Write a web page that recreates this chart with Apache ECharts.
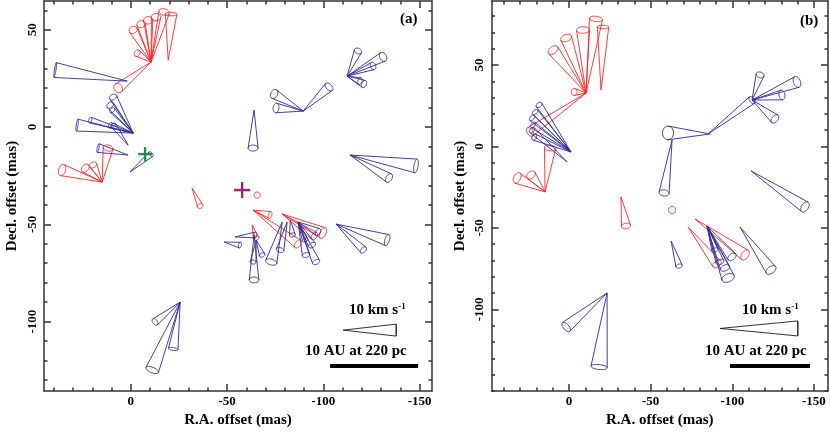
<!DOCTYPE html>
<html>
<head>
<meta charset="utf-8">
<script src="https://cdn.jsdelivr.net/npm/echarts@6/dist/echarts.min.js"></script>
<style>
  html, body { margin: 0; padding: 0; background: #fff; }
  #chart { width: 830px; height: 437px; }
</style>
</head>
<body>
<div id="chart"></div>
<script>
// axis ranges (mas)
const xRangeA = [-156.4, 45.1]
const yRangeA = [-135.7, 64.8]
const xRangeB = [-158.6, 47.5]
const yRangeB = [-150.1, 89.3]
// labelled ticks
const xLabels = [0, -50, -100, -150]
const yLabels = [50, 0, -50, -100]

// cones: [apexX, apexY, baseX, baseY, halfWidth, ellipseRatio]
const redA = [
  [-10.5, 33.4, -1.2, 49.9, 2.2, 0.8],
  [-10.5, 33.4, -5.3, 52.9, 2.2, 0.8],
  [-10.5, 33.4, -9.0, 54.9, 2.4, 0.8],
  [-10.5, 33.4, -13.1, 56.5, 2.4, 0.8],
  [-10.5, 33.4, -17.3, 59.1, 2.8, 0.6],
  [-10.5, 33.4, -3.3, 38.0, 1.8, 0.8],
  [-10.5, 33.4, 6.6, 20.0, 2.6, 0.8],
  [-19.4, 34.4, -20.9, 58.1, 3.0, 0.3],
  [14.9, -28.3, 35.7, -22.1, 3.0, 0.6],
  [14.9, -28.3, 23.7, -21.1, 2.4, 0.7],
  [14.9, -28.3, 19.6, -19.5, 2.0, 0.7],
  [14.9, -28.3, 11.8, -10.8, 2.6, 0.6],
  [-31.8, -31.4, -36.0, -40.6, 1.5, 0.8],
  [-65.6, -35.0, -65.6, -35.0, 1.6, 1.0],
  [-63.5, -42.7, -72.3, -45.2, 1.8, 0.5],
  [-63.5, -42.7, -86.8, -60.1, 2.4, 0.6],
  [-78.6, -44.7, -99.8, -54.5, 3.0, 0.5],
  [-78.6, -44.7, -95.3, -56.0, 2.2, 0.6],
  [-63.0, -50.4, -65.1, -57.1, 1.5, 0.7]
]
const blueA = [
  [1.9, 23.6, 39.3, 29.3, 3.9, 0.1],
  [-1.2, -3.1, 9.2, 15.4, 2.0, 0.7],
  [-1.2, -3.1, 10.7, 11.3, 2.0, 0.7],
  [-1.2, -3.1, 9.7, 8.7, 1.5, 0.7],
  [-1.2, -3.1, 27.9, 1.0, 3.1, 0.15],
  [-1.2, -3.1, 21.1, 3.6, 1.5, 0.5],
  [-1.2, -3.1, 10.7, 1.0, 1.5, 0.5],
  [1.4, -9.3, 9.1, 1.0, 1.5, 0.5],
  [1.4, -14.4, 17.0, -10.8, 2.3, 0.2],
  [0.4, -23.1, -10.5, -13.9, 1.5, 0.5],
  [-64.0, 8.7, -63.5, -10.8, 2.6, 0.6],
  [-89.5, 8.2, -74.4, 17.0, 2.5, 0.7],
  [-89.5, 8.2, -75.4, 9.8, 2.5, 0.6],
  [-89.5, 8.2, -102.9, 20.6, 2.5, 0.6],
  [-112.3, 26.2, -118.0, 39.1, 2.0, 0.7],
  [-112.3, 26.2, -131.0, 36.1, 2.5, 0.7],
  [-112.3, 26.2, -125.8, 31.4, 2.0, 0.7],
  [-112.3, 26.2, -121.1, 22.1, 2.0, 0.6],
  [-112.3, 26.2, -119.0, 23.6, 1.8, 0.6],
  [-113.9, -14.4, -148.1, -20.0, 3.6, 0.3],
  [-113.9, -14.4, -134.1, -26.2, 2.5, 0.6],
  [-48.4, -59.1, -56.7, -60.7, 1.5, 0.5],
  [-54.1, -56.5, -64.6, -55.5, 1.5, 0.5],
  [-64.0, -55.5, -64.0, -78.6, 2.5, 0.6],
  [-65.1, -58.1, -63.5, -69.4, 1.5, 0.7],
  [-65.1, -58.1, -68.2, -65.8, 1.5, 0.7],
  [-78.6, -48.8, -72.9, -69.4, 3.0, 0.5],
  [-81.2, -48.8, -77.5, -63.2, 2.0, 0.6],
  [-82.8, -47.8, -83.9, -55.5, 1.5, 0.7],
  [-86.9, -48.8, -91.0, -65.8, 2.0, 0.6],
  [-86.9, -48.8, -96.2, -69.4, 2.0, 0.6],
  [-86.9, -48.8, -94.1, -60.7, 2.0, 0.6],
  [-86.9, -48.8, -97.2, -54.0, 2.0, 0.6],
  [-86.9, -48.8, -90.5, -58.1, 1.5, 0.6],
  [-106.6, -49.9, -133.1, -58.1, 3.0, 0.4],
  [-106.6, -49.9, -120.8, -63.2, 2.0, 0.6],
  [-25.6, -90.0, -12.6, -100.2, 2.0, 0.6],
  [-25.6, -90.0, -22.0, -114.1, 2.5, 0.3],
  [-25.6, -90.0, -11.1, -124.9, 3.5, 0.4]
]
const redB = [
  [-10.4, 32.8, 9.8, 59.2, 3.5, 0.6],
  [-10.4, 32.8, 1.8, 66.6, 3.5, 0.6],
  [-10.4, 32.8, -8.6, 71.5, 4.0, 0.5],
  [-10.4, 32.8, -16.5, 78.3, 4.0, 0.4],
  [-19.6, 34.7, -20.8, 73.4, 3.5, 0.3],
  [-10.4, 32.8, -3.1, 33.5, 2.2, 0.8],
  [-10.4, 32.8, 23.9, 8.9, 3.0, 0.6],
  [14.7, -27.9, 31.8, -19.3, 3.5, 0.6],
  [14.7, -27.9, 23.3, -17.5, 3.0, 0.7],
  [14.7, -27.9, 11.6, -0.9, 3.5, 0.5],
  [-31.8, -31.0, -34.9, -48.8, 2.8, 0.6],
  [-63.1, -39.0, -63.1, -39.0, 2.2, 1.0],
  [-72.9, -49.4, -90.6, -72.1, 3.0, 0.6],
  [-77.2, -44.5, -107.8, -66.6, 3.5, 0.6]
]
const blueB = [
  [-1.2, -3.4, 18.4, 25.5, 2.0, 0.7],
  [-1.2, -3.4, 20.8, 21.2, 2.0, 0.6],
  [-1.2, -3.4, 22.7, 17.5, 2.0, 0.6],
  [-1.2, -3.4, 22.0, 13.2, 2.0, 0.6],
  [-1.2, -3.4, 21.4, 5.8, 2.0, 0.7],
  [1.2, -9.5, 22.7, 10.1, 2.0, 0.6],
  [-86.3, 7.7, -60.6, 8.3, 4.2, 0.8],
  [-63.1, 4.0, -58.2, -28.5, 3.1, 0.6],
  [-85.1, 7.7, -112.1, 28.5, 2.5, 0.6],
  [-112.1, 28.5, -117.0, 43.9, 2.5, 0.7],
  [-112.1, 28.5, -139.6, 39.6, 3.5, 0.6],
  [-112.1, 28.5, -130.4, 31.6, 3.0, 0.6],
  [-112.1, 28.5, -126.1, 16.9, 3.0, 0.6],
  [-111.5, -15.0, -144.5, -37.1, 3.5, 0.6],
  [-62.5, -58.0, -67.4, -73.4, 2.0, 0.6],
  [-84.5, -48.8, -97.4, -80.7, 4.0, 0.6],
  [-84.5, -48.8, -99.8, -67.8, 3.0, 0.6],
  [-84.5, -48.8, -92.4, -70.9, 2.5, 0.6],
  [-84.5, -48.8, -89.4, -63.5, 2.0, 0.6],
  [-84.5, -48.8, -95.5, -74.6, 3.0, 0.6],
  [-104.7, -49.4, -123.7, -75.8, 3.5, 0.6],
  [-23.3, -89.9, 1.8, -110.8, 3.5, 0.5],
  [-23.3, -89.9, -18.4, -135.4, 5.0, 0.3]
]
// 10 km/s reference cones
const refConeA = [[-110.3, -104.4, -137.8, -104.4, 3.1, 0.05]]
const refConeB = [[-92.5, -111.7, -140.1, -111.7, 4.6, 0.05]]
// 10 AU at 220 pc bars
const barA = [[-103.5, -122.9], [-149.2, -122.9]]
const barB = [[-98.6, -134.7], [-147.6, -134.7]]
// crosses [x, y, arm]
const greenCross = [[-7.4, -13.9, 3.6]]
const magentaCross = [[-57.8, -32.4, 4.2]]

const RED = '#ff2626'
const BLUE = '#2c2c96'
const AXIS = '#333'
const FONT = 'Liberation Serif'

const minorsOf = (r) => {
  const out = []
  for (let v = Math.ceil(r[0] / 10) * 10; v <= r[1]; v += 10) out.push(v)
  return out
}

// 画一个圆锥：顶点 -> 底面椭圆
const coneItem = (color, lw) => (params, api) => {
  const a = api.coord([api.value(0), api.value(1)])
  const b = api.coord([api.value(2), api.value(3)])
  const hw = Math.abs(api.size([api.value(4), 0])[0])
  const r = api.value(5)
  const dx = b[0] - a[0], dy = b[1] - a[1]
  const L = Math.hypot(dx, dy)
  const ux = L > 0 ? dx / L : 1, uy = L > 0 ? dy / L : 0
  const nx = -uy, ny = ux
  const pts = []
  for (let i = 0; i <= 40; i++) {
    const t = i / 40 * Math.PI * 2
    pts.push([b[0] + nx * hw * Math.cos(t) + ux * hw * r * Math.sin(t),
              b[1] + ny * hw * Math.cos(t) + uy * hw * r * Math.sin(t)])
  }
  const style = { stroke: color, fill: null, lineWidth: lw }
  const children = [{ type: 'polyline', shape: { points: pts }, style }]
  if (L > 0) {
    children.push({ type: 'polyline', shape: { points: [a, [b[0] + nx * hw, b[1] + ny * hw]] }, style })
    children.push({ type: 'polyline', shape: { points: [a, [b[0] - nx * hw, b[1] - ny * hw]] }, style })
  }
  return { type: 'group', children }
}

const crossItem = (color) => (params, api) => {
  const c = api.coord([api.value(0), api.value(1)])
  const s = Math.abs(api.size([api.value(2), 0])[0])
  const style = { stroke: color, lineWidth: 2.4 }
  return {
    type: 'group', children: [
      { type: 'line', shape: { x1: c[0] - s, y1: c[1], x2: c[0] + s, y2: c[1] }, style },
      { type: 'line', shape: { x1: c[0], y1: c[1] - s, x2: c[0], y2: c[1] + s }, style }
    ]
  }
}

const coneSeries = (data, color, xi, yi, lw) => ({
  type: 'custom', xAxisIndex: xi, yAxisIndex: yi, data,
  renderItem: coneItem(color, lw || 0.9), encode: { x: [0, 2], y: [1, 3] }, silent: true
})

const lineStyle = { color: AXIS, width: 1.5 }
const labelFont = { fontFamily: FONT, fontWeight: 'bold', fontSize: 13, color: '#000' }
const nameFont = { fontFamily: FONT, fontWeight: 'bold', fontSize: 15, color: '#000' }

const xAx = (grid, range, pos, ticks, len, opts) => Object.assign({
  gridIndex: grid, type: 'value', min: range[0], max: range[1], inverse: true, position: pos,
  axisLine: { show: len > 5, onZero: false, lineStyle },
  axisTick: { show: true, inside: true, length: len, customValues: ticks, lineStyle },
  axisLabel: { show: false },
  splitLine: { show: false }
}, opts || {})
const yAx = (grid, range, pos, ticks, len, opts) => Object.assign({
  gridIndex: grid, type: 'value', min: range[0], max: range[1], position: pos,
  axisLine: { show: len > 5, onZero: false, lineStyle },
  axisTick: { show: true, inside: true, length: len, customValues: ticks, lineStyle },
  axisLabel: { show: false },
  splitLine: { show: false }
}, opts || {})

const xName = (extra) => Object.assign({
  name: 'R.A. offset (mas)', nameLocation: 'middle', nameGap: 18, nameTextStyle: nameFont,
  axisLabel: Object.assign({ show: true, customValues: xLabels, margin: 4 }, labelFont)
}, extra || {})
const yName = (extra) => Object.assign({
  name: 'Decl. offset (mas)', nameLocation: 'middle', nameGap: 24, nameTextStyle: nameFont,
  axisLabel: Object.assign({ show: true, customValues: yLabels, rotate: 90, margin: 5 }, labelFont)
}, extra || {})

const gridA = { left: 44, top: 1, width: 388, height: 390 }
const gridB = { left: 491.5, top: 1, width: 336.5, height: 390 }

const option = {
  animation: false,
  backgroundColor: '#fff',
  grid: [gridA, gridA, gridB, gridB],
  xAxis: [
    xAx(0, xRangeA, 'bottom', xLabels, 7, xName()),
    xAx(0, xRangeA, 'top', xLabels, 7),
    xAx(1, xRangeA, 'bottom', minorsOf(xRangeA), 3.5),
    xAx(1, xRangeA, 'top', minorsOf(xRangeA), 3.5),
    xAx(2, xRangeB, 'bottom', xLabels, 7, xName()),
    xAx(2, xRangeB, 'top', xLabels, 7),
    xAx(3, xRangeB, 'bottom', minorsOf(xRangeB), 3.5),
    xAx(3, xRangeB, 'top', minorsOf(xRangeB), 3.5)
  ],
  yAxis: [
    yAx(0, yRangeA, 'left', yLabels, 7, yName()),
    yAx(0, yRangeA, 'right', yLabels, 7),
    yAx(1, yRangeA, 'left', minorsOf(yRangeA), 3.5),
    yAx(1, yRangeA, 'right', minorsOf(yRangeA), 3.5),
    yAx(2, yRangeB, 'left', yLabels, 7, yName()),
    yAx(2, yRangeB, 'right', yLabels, 7),
    yAx(3, yRangeB, 'left', minorsOf(yRangeB), 3.5),
    yAx(3, yRangeB, 'right', minorsOf(yRangeB), 3.5)
  ],
  graphic: [
    { type: 'text', left: 400, top: 12, style: { text: '(a)', font: 'bold 15px "Liberation Serif"', fill: '#000' } },
    { type: 'text', left: 800, top: 14, style: { text: '(b)', font: 'bold 15px "Liberation Serif"', fill: '#000' } },
    { type: 'text', left: 349, top: 302, style: { text: '{t|10 km s}{s|-1}', rich: {
      t: { fontFamily: FONT, fontWeight: 'bold', fontSize: 15, fill: '#000' },
      s: { fontFamily: FONT, fontWeight: 'bold', fontSize: 9, fill: '#000', verticalAlign: 'top', padding: [0, 0, 8, 0] } } } },
    { type: 'text', left: 305, top: 344, style: { text: '10 AU at 220 pc', font: 'bold 15px "Liberation Serif"', fill: '#000' } },
    { type: 'text', left: 742, top: 302, style: { text: '{t|10 km s}{s|-1}', rich: {
      t: { fontFamily: FONT, fontWeight: 'bold', fontSize: 15, fill: '#000' },
      s: { fontFamily: FONT, fontWeight: 'bold', fontSize: 9, fill: '#000', verticalAlign: 'top', padding: [0, 0, 8, 0] } } } },
    { type: 'text', left: 705, top: 344, style: { text: '10 AU at 220 pc', font: 'bold 15px "Liberation Serif"', fill: '#000' } }
  ],
  series: [
    coneSeries(redA, RED, 0, 0),
    coneSeries(blueA, BLUE, 0, 0),
    coneSeries(refConeA, '#000', 0, 0, 0.8),
    { type: 'custom', xAxisIndex: 0, yAxisIndex: 0, data: greenCross, renderItem: crossItem('#1f8f4e'), silent: true },
    { type: 'custom', xAxisIndex: 0, yAxisIndex: 0, data: magentaCross, renderItem: crossItem('#a3207f'), silent: true },
    { type: 'line', xAxisIndex: 0, yAxisIndex: 0, data: barA, symbol: 'none', lineStyle: { color: '#000', width: 4 }, silent: true },
    coneSeries(redB, RED, 4, 4),
    coneSeries(blueB, BLUE, 4, 4),
    coneSeries(refConeB, '#000', 4, 4, 0.8),
    { type: 'line', xAxisIndex: 4, yAxisIndex: 4, data: barB, symbol: 'none', lineStyle: { color: '#000', width: 4 }, silent: true }
  ]
}

const myChart = echarts.init(document.getElementById('chart'))
myChart.setOption(option)
</script>
</body>
</html>
